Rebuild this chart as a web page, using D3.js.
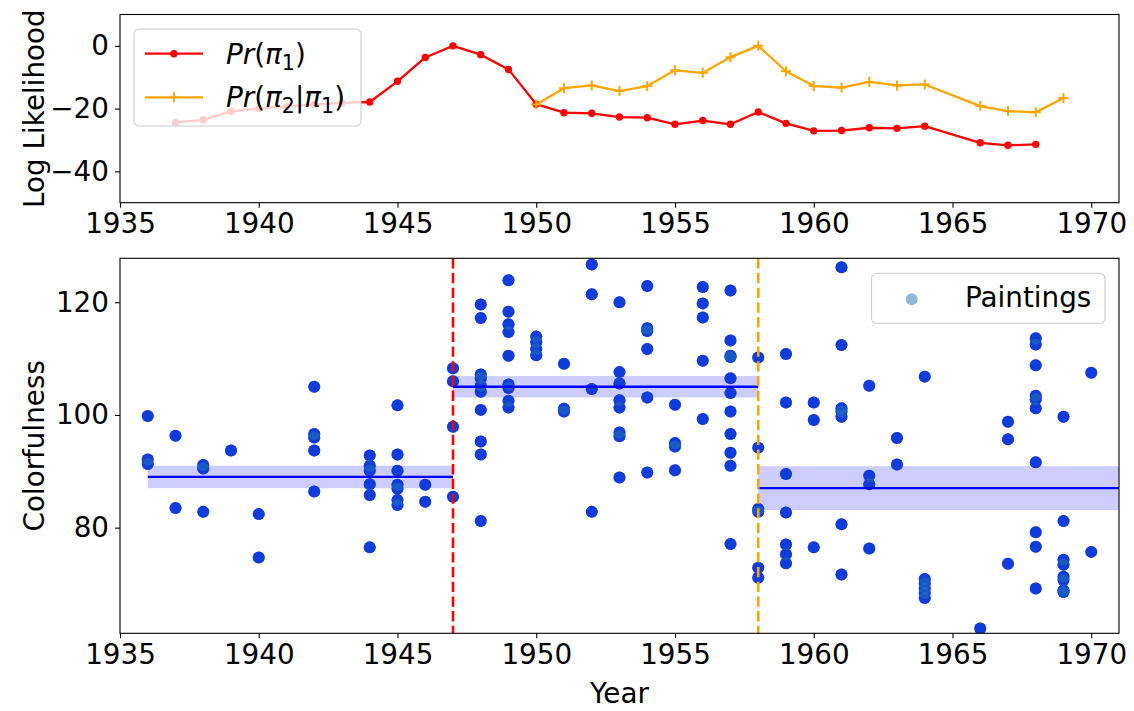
<!DOCTYPE html>
<html>
<head>
<meta charset="utf-8">
<script src="https://cdn.jsdelivr.net/npm/d3@7"></script>
<style>
  body { margin: 0; background: #fff; }
  text { font-family: "DejaVu Sans", sans-serif; fill: #000; }
</style>
</head>
<body>
<svg id="chart" width="1134" height="711"></svg>
<script>
// ---- data ----
const xTicks = [1935, 1940, 1945, 1950, 1955, 1960, 1965, 1970];
const topYTicks = [0, -20, -40];
const bottomYTicks = [80, 100, 120];

// log likelihood of the first change point
const likelihoodYears1 = [1937, 1938, 1939, 1940, 1941, 1942, 1943, 1944, 1945, 1946, 1947, 1948, 1949,
  1950, 1951, 1952, 1953, 1954, 1955, 1956, 1957, 1958, 1959, 1960, 1961, 1962, 1963, 1964, 1966, 1967, 1968];
const likelihood1 = [-24.4, -23.6, -20.9, -20.0, -19.3, -18.7, -18.2, -17.9, -11.3, -3.7, 0, -2.8, -7.5,
  -18.6, -21.3, -21.5, -22.7, -22.9, -25.0, -23.8, -25.0, -21.1, -24.7, -27.1, -27.0, -26.1, -26.3, -25.6, -30.9, -31.7, -31.4];

// log likelihood of the second change point given the first
const likelihoodYears2 = [1950, 1951, 1952, 1953, 1954, 1955, 1956, 1957, 1958, 1959, 1960, 1961, 1962, 1963, 1964,
  1966, 1967, 1968, 1969];
const likelihood2 = [-18.7, -13.5, -12.6, -14.4, -12.8, -7.8, -8.6, -3.6, 0, -8.1, -12.8, -13.3, -11.5, -12.6, -12.3,
  -19.2, -20.8, -21.2, -16.6];

// colorfulness of individual paintings, grouped by year
const paintingYears = [1936, 1937, 1938, 1939, 1940, 1942, 1944, 1945, 1946, 1947, 1948, 1949, 1950, 1951, 1952,
  1953, 1954, 1955, 1956, 1957, 1958, 1959, 1960, 1961, 1962, 1963, 1964, 1966, 1967, 1968, 1969, 1970];
const paintingScores = [
  [99.8, 92.1, 91.3],
  [96.3, 83.5],
  [91.1, 90.5, 82.8],
  [93.7],
  [82.4, 74.7],
  [105.0, 96.6, 96.0, 93.7, 86.4],
  [92.8, 91.0, 90.1, 87.7, 85.8, 76.5],
  [101.7, 93.0, 90.1, 87.6, 86.9, 84.9, 84.0],
  [87.6, 84.6],
  [108.3, 106.0, 97.9, 85.5],
  [119.6, 117.2, 107.2, 106.5, 105.2, 104.1, 100.9, 95.3, 93.0, 81.2],
  [123.9, 118.3, 116.1, 114.7, 110.5, 105.4, 104.8, 102.5, 101.3],
  [113.9, 112.9, 111.7, 110.6],
  [109.1, 101.1, 100.6],
  [126.7, 121.4, 104.6, 82.8],
  [120.0, 107.6, 105.6, 102.6, 101.3, 96.9, 96.2, 88.9],
  [122.9, 115.4, 114.9, 111.7, 103.1, 89.8],
  [101.8, 95.0, 94.4, 90.2],
  [122.7, 119.8, 117.3, 109.6, 99.3],
  [122.1, 113.2, 110.5, 110.3, 106.5, 103.9, 100.6, 96.6, 93.3, 91.0, 77.1],
  [110.2, 94.2, 83.3, 82.8, 72.9, 71.1],
  [110.8, 102.2, 89.5, 82.7, 77.0, 75.3, 73.7],
  [102.2, 99.1, 76.5],
  [126.2, 112.4, 101.2, 100.6, 99.7, 80.6, 71.7],
  [105.2, 89.2, 87.7, 76.3],
  [95.9, 91.2],
  [106.8, 70.9, 70.1, 69.2, 68.4, 67.5],
  [62.1],
  [98.8, 95.7, 73.6],
  [113.6, 112.5, 108.8, 103.4, 102.8, 101.2, 91.6, 79.2, 76.6, 69.2],
  [99.7, 81.2, 74.3, 73.4, 71.3, 70.7, 68.9, 68.6],
  [107.5, 75.7]
];

// segment means with their uncertainty bands
const segmentStart = [1936, 1947, 1958];
const segmentEnd = [1947, 1958, 1971];
const segmentMean = [89.0, 105.0, 87.0];
const segmentLow = [87.0, 103.1, 83.1];
const segmentHigh = [91.0, 106.9, 90.9];

// detected change points
const changeYears = [1947, 1958];
const changeColors = ["#ff0000", "#ffa500"];

// ---- layout ----
const svg = d3.select("#chart");
const FS = 27.8;
const left = 120, right = 1119;
const x = d3.scaleLinear().domain([1935, 1971]).range([left, right]);
const yTop = d3.scaleLinear().domain([-50, 10]).range([202.7, 14.5]);
const yBot = d3.scaleLinear().domain([61.25, 127.8]).range([633.3, 258.3]);

function drawAxes(g, yScale, yTicks, yLabel) {
  const [yb, yt] = yScale.range();
  const xa = g.append("g").attr("transform", `translate(0,${yb})`)
    .call(d3.axisBottom(x).tickValues(xTicks).tickFormat(d3.format("d")).tickSize(5).tickPadding(6));
  const ya = g.append("g").attr("transform", `translate(${left},0)`)
    .call(d3.axisLeft(yScale).tickValues(yTicks).tickFormat(d => d < 0 ? "\u2212" + Math.abs(d) : d).tickSize(5).tickPadding(6));
  [xa, ya].forEach(a => {
    a.select(".domain").remove();
    a.selectAll("line").attr("stroke", "#000").attr("stroke-width", 1.1);
    a.selectAll("text").attr("font-size", FS).attr("font-family", "DejaVu Sans");
  });
  g.append("rect").attr("x", left).attr("y", yt).attr("width", right - left).attr("height", yb - yt)
    .attr("fill", "none").attr("stroke", "#000").attr("stroke-width", 1.1);
  g.append("text").attr("transform", `translate(34,${(yt + yb) / 2}) rotate(-90)`)
    .attr("text-anchor", "middle").attr("dominant-baseline", "central").attr("font-size", FS).text(yLabel);
}

// ---- top panel: log likelihood ----
const topPanel = svg.append("g");
svg.append("clipPath").attr("id", "clipTop").append("rect")
  .attr("x", left).attr("y", 14.5).attr("width", right - left).attr("height", 202.7 - 14.5);
const topPlot = topPanel.append("g").attr("clip-path", "url(#clipTop)");

const series1 = likelihoodYears1.map((yr, i) => [yr, likelihood1[i]]);
const series2 = likelihoodYears2.map((yr, i) => [yr, likelihood2[i]]);
const lineTop = d3.line().x(d => x(d[0])).y(d => yTop(d[1]));

topPlot.append("path").datum(series1).attr("d", lineTop)
  .attr("fill", "none").attr("stroke", "#ff0000").attr("stroke-width", 2.3).attr("stroke-linejoin", "round");
topPlot.selectAll(".dot1").data(series1).join("circle")
  .attr("cx", d => x(d[0])).attr("cy", d => yTop(d[1])).attr("r", 3.7).attr("fill", "#ff0000");

topPlot.append("path").datum(series2).attr("d", lineTop)
  .attr("fill", "none").attr("stroke", "#ffa500").attr("stroke-width", 2.3).attr("stroke-linejoin", "round");
topPlot.selectAll(".plus2").data(series2).join("path")
  .attr("transform", d => `translate(${x(d[0])},${yTop(d[1])})`)
  .attr("d", "M-5,0H5M0,-5V5")
  .attr("stroke", "#ffa500").attr("stroke-width", 2).attr("fill", "none");

drawAxes(topPanel, yTop, topYTicks, "Log Likelihood");

// legend (semi-transparent box over the lines)
const lg = topPanel.append("g");
lg.append("rect").attr("x", 134).attr("y", 29).attr("width", 227).attr("height", 97).attr("rx", 5)
  .attr("fill", "#fff").attr("fill-opacity", 0.8).attr("stroke", "#cccccc").attr("stroke-width", 1.1);
function mathLabel(g, yBase, parts) {
  const t = g.append("text").attr("x", 226).attr("y", yBase).attr("font-size", FS);
  parts.forEach(p => {
    const s = t.append("tspan").text(p.t);
    if (p.i) s.attr("font-style", "italic");
    if (p.sub) s.attr("font-size", FS * 0.74).attr("dy", 6);
    if (p.up) s.attr("dy", -6);
  });
}
lg.append("line").attr("x1", 145).attr("x2", 203).attr("y1", 53.7).attr("y2", 53.7)
  .attr("stroke", "#ff0000").attr("stroke-width", 2.3);
lg.append("circle").attr("cx", 174).attr("cy", 53.7).attr("r", 3.7).attr("fill", "#ff0000");
mathLabel(lg, 63.5, [{t: "Pr", i: true}, {t: "("}, {t: "\u03c0", i: true}, {t: "1", sub: true}, {t: ")", up: true}]);

lg.append("line").attr("x1", 145).attr("x2", 203).attr("y1", 97.3).attr("y2", 97.3)
  .attr("stroke", "#ffa500").attr("stroke-width", 2.3);
lg.append("path").attr("transform", "translate(174,97.3)").attr("d", "M-5,0H5M0,-5V5")
  .attr("stroke", "#ffa500").attr("stroke-width", 2);
mathLabel(lg, 107, [{t: "Pr", i: true}, {t: "("}, {t: "\u03c0", i: true}, {t: "2", sub: true},
  {t: "|", up: true}, {t: "\u03c0", i: true}, {t: "1", sub: true}, {t: ")", up: true}]);

// ---- bottom panel: colorfulness ----
const botPanel = svg.append("g");
svg.append("clipPath").attr("id", "clipBot").append("rect")
  .attr("x", left).attr("y", 258.3).attr("width", right - left).attr("height", 633.3 - 258.3);
const botPlot = botPanel.append("g").attr("clip-path", "url(#clipBot)");

const segments = segmentStart.map((s, i) => ({s, e: segmentEnd[i], m: segmentMean[i], lo: segmentLow[i], hi: segmentHigh[i]}));
botPlot.selectAll(".band").data(segments).join("rect")
  .attr("x", d => x(d.s)).attr("width", d => x(d.e) - x(d.s))
  .attr("y", d => yBot(d.hi)).attr("height", d => yBot(d.lo) - yBot(d.hi))
  .attr("fill", "#0000ff").attr("fill-opacity", 0.2);

const points = [];
paintingYears.forEach((yr, i) => paintingScores[i].forEach(v => points.push([yr, v])));

// solid blue base, tinted by a translucent second pass
botPlot.selectAll(".pbase").data(points).join("circle")
  .attr("cx", d => x(d[0])).attr("cy", d => yBot(d[1])).attr("r", 6).attr("fill", "#0000ff");
botPlot.selectAll(".ptint").data(points).join("circle")
  .attr("cx", d => x(d[0])).attr("cy", d => yBot(d[1])).attr("r", 6)
  .attr("fill", "#1f77b4").attr("fill-opacity", 0.5);

botPlot.selectAll(".mean").data(segments).join("line")
  .attr("x1", d => x(d.s)).attr("x2", d => x(d.e))
  .attr("y1", d => yBot(d.m)).attr("y2", d => yBot(d.m))
  .attr("stroke", "#0000ff").attr("stroke-width", 2.3);

botPlot.selectAll(".cp").data(changeYears).join("line")
  .attr("x1", d => x(d)).attr("x2", d => x(d))
  .attr("y1", 258.3).attr("y2", 633.3)
  .attr("stroke", (d, i) => changeColors[i]).attr("stroke-width", 2.6)
  .attr("stroke-dasharray", "10.3,4.4");

drawAxes(botPanel, yBot, bottomYTicks, "Colorfulness");

botPanel.append("text").attr("x", (left + right) / 2).attr("y", 693)
  .attr("text-anchor", "middle").attr("dominant-baseline", "central").attr("font-size", FS).text("Year");

const lb = botPanel.append("g");
lb.append("rect").attr("x", 871.5).attr("y", 273.3).attr("width", 233.5).attr("height", 50).attr("rx", 5)
  .attr("fill", "#fff").attr("fill-opacity", 0.8).attr("stroke", "#cccccc").attr("stroke-width", 1.1);
lb.append("circle").attr("cx", 911.7).attr("cy", 299.3).attr("r", 6)
  .attr("fill", "#1f77b4").attr("fill-opacity", 0.5);
lb.append("text").attr("x", 965).attr("y", 306.7).attr("font-size", FS).text("Paintings");
</script>
</body>
</html>
